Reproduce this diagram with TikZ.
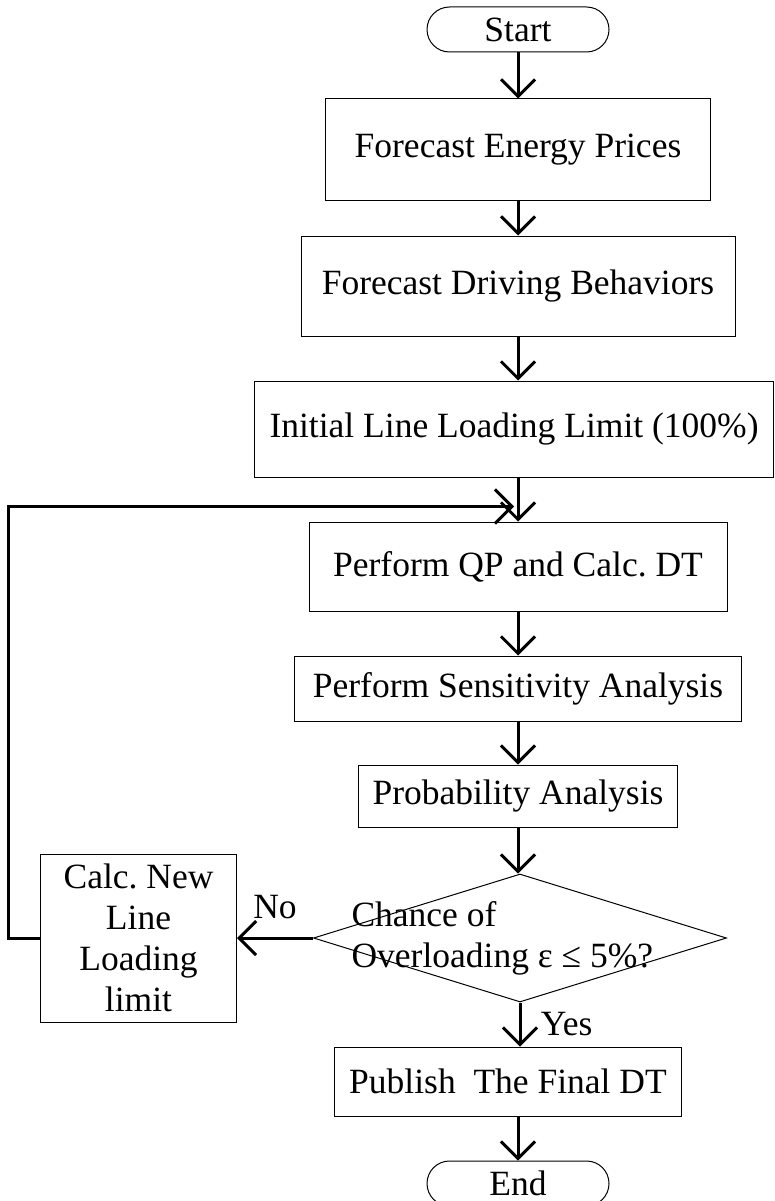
\documentclass[tikz,border=0pt]{standalone}
\usepackage{fontspec}
\setmainfont{Liberation Serif}
\usetikzlibrary{positioning, shapes.geometric, shapes.misc, arrows.meta}

\begin{document}
\begin{tikzpicture}[x=1pt, y=1pt, node distance={44pt},
		font=\fontsize{35.5}{41}\selectfont,
		main/.style = {draw, line width=1pt, rectangle, inner sep=0pt},
		term/.style = {draw, line width=1pt, rounded rectangle, inner sep=0pt, minimum width=182pt, minimum height=45pt},
		arr/.style = {line width=3pt, -{Straight Barb[length=17pt, width=34pt]}}]
		\useasboundingbox (0,0) rectangle (774,-1201);

		\node[term] (1) at (518,-29.5) {Start};
		\node[main, minimum width=385pt, minimum height=101pt] (2) [below=46pt of 1] {Forecast Energy Prices};
		\node[main, minimum width=434pt, minimum height=100pt] (3) [below=35pt of 2] {Forecast Driving Behaviors};
		\node[main, minimum width=519pt, minimum height=96pt] (4) [below=44pt of 3, xshift=-4pt] {Initial Line Loading Limit (100\%)};
		\node[main, minimum width=418pt, minimum height=89pt] (5) [below=44pt of 4, xshift=4pt] {Perform QP and Calc.\ DT};
		\node[main, minimum width=447pt, minimum height=65pt] (6) [below=44pt of 5] {Perform Sensitivity Analysis};
		\node[main, minimum width=319pt, minimum height=62pt] (7) [below=43pt of 6] {Probability Analysis};
		\node[draw, diamond, line width=1pt, inner sep=0pt, minimum width=413pt, minimum height=128pt] (8) [below=46pt of 7, xshift=2pt] {};
		\node[anchor=west, align=left] (q) at ([xshift=35pt]8.west) {Chance of\\Overloading ε ≤ 5\%?};
		\node[main, minimum width=196pt, minimum height=168pt, align=center] (9) [left=76pt of 8] {Calc.\ New\\Line\\Loading\\limit};
		\node[main, minimum width=347pt, minimum height=69pt] (10) [below=44pt of 8, xshift=-12pt] {Publish~~The Final DT};
		\node[term] (11) [below=44pt of 10, xshift=10pt] {End};

		\draw[arr] (1) -- (2);
		\draw[arr] (2) -- (3);
		\draw[arr] (3.south) -- (3.south |- 4.north);
		\draw[arr] (3.south |- 4.south) -- (5.north);
		\draw[arr] (5) -- (6);
		\draw[arr] (6) -- (7);
		\draw[arr] (7.south) -- (7.south |- 8.north);
		\draw[arr] (8.west) -- (9.east) node[midway, above=14pt] {No};
		\draw[arr] (8.south) -- (8.south |- 10.north) node[midway, right=16pt] {Yes};
		\draw[arr] (10.south -| 11.north) -- (11.north);
		\draw[arr] (9.west) -- ++(-32,0) |- ([yshift=15pt, xshift=-4pt]5.north);
	\end{tikzpicture}
\end{document}
